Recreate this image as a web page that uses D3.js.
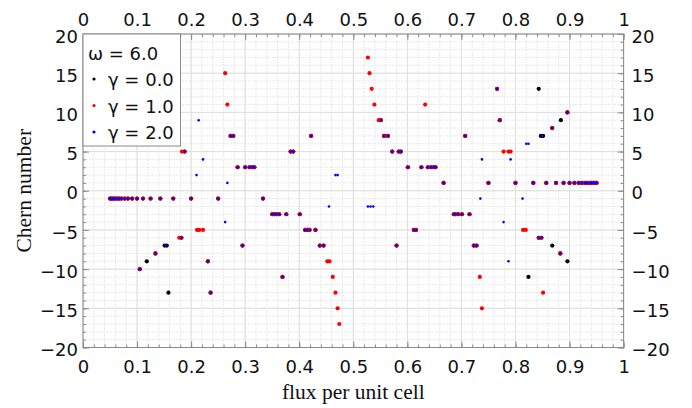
<!doctype html>
<html>
<head>
<meta charset="utf-8" />
<title>Chern number vs flux</title>
<script src="https://cdn.jsdelivr.net/npm/d3@7"></script>
<style>
  html,body{margin:0;background:#fff}
  svg text{fill:#111}
  .tick-lbl{font-family:"DejaVu Sans",sans-serif;font-size:18px}
  .ax-title{font-family:"Liberation Serif",serif;font-size:21.5px}
  .leg{font-family:"DejaVu Sans",sans-serif;font-size:18px}
</style>
</head>
<body>
<svg id="chart" width="692" height="408"></svg>
<script>
// points where all three γ agree (blue drawn over red over black)
const fluxShared = [
  0.050,0.053,0.056,0.059,0.063,0.067,0.071,0.077,0.083,0.091,0.100,0.111,0.125,0.143,0.167,0.200,0.250,0.333,
  0.667,0.750,0.800,0.833,0.857,0.875,0.889,0.900,0.909,0.917,0.923,0.929,0.933,0.938,0.941,0.944,0.947,0.950,
  0.286,0.300,0.308,0.313,0.317,0.601,0.626,0.638,0.644,0.649,0.652,
  0.350,0.354,0.358,0.363,0.376,0.401,0.686,0.689,0.694,0.701,0.715,
  0.188,0.384,0.389,0.572,0.584,0.588,
  0.411,0.415,0.419,0.430,0.612,0.616,
  0.182,0.843,0.848,
  0.273,0.278,0.422,0.557,0.564,0.707,
  0.295,0.438,0.445,0.580,0.723,0.728,
  0.868,0.134,0.883,0.551,0.771,0.231,0.896,0.105,0.369,0.766,0.236
];
const chernShared = [
  -1,-1,-1,-1,-1,-1,-1,-1,-1,-1,-1,-1,-1,-1,-1,-1,-1,-1,
  1,1,1,1,1,1,1,1,1,1,1,1,1,1,1,1,1,1,
  3,3,3,3,3,3,3,3,3,3,3,
  -3,-3,-3,-3,-3,-3,-3,-3,-3,-3,-3,
  5,5,5,5,5,5,
  -5,-5,-5,-5,-5,-5,
  -6,-6,-6,
  7,7,7,7,7,7,
  -7,-7,-7,-7,-7,-7,
  8,-8,-8,9,9,-9,10,-10,-11,13,-13
];

// γ = 0.0 only
const fluxG0  = [0.151,0.155,0.118,0.158,0.824,0.843,0.847,0.851,0.868,0.884,0.896];
const chernG0 = [-7,-7,-9,-13,-11,13,7,7,-7,9,-9];

// γ = 1.0 only
const fluxG1  = [0.155,0.183,0.178,0.211,0.215,0.222,0.263,0.267,0.452,0.456,0.462,0.467,0.471,0.474,
                 0.527,0.530,0.534,0.539,0.547,0.633,0.734,0.738,0.778,0.787,0.791,0.814,0.819,0.851];
const chernG1 = [6,5,-6,-5,-5,-5,15,11,-9,-9,-11,-13,-15,-17,
                 17,15,13,11,9,11,-11,-15,5,5,5,-5,-5,-13];

// γ = 2.0 only
const fluxG2  = [0.153,0.214,0.222,0.210,0.267,0.263,0.467,0.471,0.455,0.527,0.532,0.537,
                 0.735,0.738,0.778,0.787,0.791,0.813,0.820,0.824,0.849];
const chernG2 = [-7,9,4,2,1,-4,2,2,-2,-2,-2,-2,
                 -1,4,-4,-9,4,-1,6,6,7];

const xTicks = [0,0.1,0.2,0.3,0.4,0.5,0.6,0.7,0.8,0.9,1];
const xTickLabels = ["0","0.1","0.2","0.3","0.4","0.5","0.6","0.7","0.8","0.9","1"];
const yTicks = [-20,-15,-10,-5,0,5,10,15,20];

const series = [
  {name:"γ = 0.0", color:"#000", r:2.1, flux:fluxG0, chern:chernG0},
  {name:"γ = 1.0", color:"#f00", r:2.1, flux:fluxG1, chern:chernG1},
  {name:"γ = 2.0", color:"#00f", r:1.3, flux:fluxG2, chern:chernG2}
];

const m = {left:83, top:34};
const iw = 540.6, ih = 313.5;

const svg = d3.select("#chart");
const g = svg.append("g").attr("transform",`translate(${m.left},${m.top})`);

const x = d3.scaleLinear().domain([0,1]).range([0,iw]);
const y = d3.scaleLinear().domain([-20,20]).range([ih,0]);

// grid: minor every 0.02 / 1, major every 0.1 / 5
const xMinor = d3.range(0,1.0001,0.02);
const yMinor = d3.range(-20,20.001,1);
g.append("g").selectAll("line").data(xMinor).join("line")
  .attr("x1",d=>x(d)).attr("x2",d=>x(d)).attr("y1",0).attr("y2",ih)
  .attr("stroke","#e9e9e9").attr("stroke-dasharray","2,1");
g.append("g").selectAll("line").data(yMinor).join("line")
  .attr("y1",d=>y(d)).attr("y2",d=>y(d)).attr("x1",0).attr("x2",iw)
  .attr("stroke","#e9e9e9").attr("stroke-dasharray","2,1");
g.append("g").selectAll("line").data(xTicks).join("line")
  .attr("x1",d=>x(d)).attr("x2",d=>x(d)).attr("y1",0).attr("y2",ih)
  .attr("stroke","#dedede");
g.append("g").selectAll("line").data(yTicks).join("line")
  .attr("y1",d=>y(d)).attr("y2",d=>y(d)).attr("x1",0).attr("x2",iw)
  .attr("stroke","#dedede");

// axes with inward ticks on all four sides
function styleAxis(sel){
  sel.select(".domain").remove();
  sel.selectAll(".tick line").attr("stroke","#8a8a8a");
  sel.selectAll(".tick text").attr("class","tick-lbl").attr("fill","#111");
}
const fmtX = d => xTickLabels[xTicks.indexOf(d)] ?? d;
const minorAxis = (axis, vals) => axis.tickValues(vals).tickSize(-3).tickFormat("");

g.append("g").attr("transform",`translate(0,${ih})`)
  .call(minorAxis(d3.axisBottom(x), xMinor)).call(styleAxis);
g.append("g").call(minorAxis(d3.axisTop(x), xMinor)).call(styleAxis);
g.append("g").call(minorAxis(d3.axisLeft(y), yMinor)).call(styleAxis);
g.append("g").attr("transform",`translate(${iw},0)`)
  .call(minorAxis(d3.axisRight(y), yMinor)).call(styleAxis);

g.append("g").attr("transform",`translate(0,${ih})`)
  .call(d3.axisBottom(x).tickValues(xTicks).tickFormat(fmtX).tickSize(-6).tickPadding(13))
  .call(styleAxis);
g.append("g")
  .call(d3.axisTop(x).tickValues(xTicks).tickFormat(fmtX).tickSize(-6).tickPadding(8))
  .call(styleAxis);
g.append("g")
  .call(d3.axisLeft(y).tickValues(yTicks).tickFormat(d3.format("d")).tickSize(-6).tickPadding(5))
  .call(styleAxis)
  .selectAll(".tick text").attr("dy","0.45em");
g.append("g").attr("transform",`translate(${iw},0)`)
  .call(d3.axisRight(y).tickValues(yTicks).tickFormat(d3.format("d")).tickSize(-6).tickPadding(8))
  .call(styleAxis)
  .selectAll(".tick text").attr("dy","0.45em");

// frame
g.append("rect").attr("width",iw).attr("height",ih)
  .attr("fill","none").attr("stroke","#8a8a8a");

// markers: shared points get all three colours stacked, then each series' own points
const pts = g.append("g");
series.forEach(s => {
  const data = fluxShared.map((f,i)=>[f,chernShared[i]])
    .concat(s.flux.map((f,i)=>[f,s.chern[i]]));
  pts.append("g").selectAll("circle").data(data).join("circle")
    .attr("cx",d=>x(d[0])).attr("cy",d=>y(d[1]))
    .attr("r",s.r).attr("fill",s.color);
});

// legend
const leg = g.append("g");
leg.append("rect").attr("x",0).attr("y",0).attr("width",97.5).attr("height",112)
  .attr("fill","#fff").attr("stroke","#8a8a8a");
leg.append("text").attr("class","leg").attr("x",5).attr("y",26).text("ω = 6.0");
series.forEach((s,i)=>{
  const yy = 45 + i*26.5;
  leg.append("circle").attr("cx",11).attr("cy",yy).attr("r",1.6).attr("fill",s.color);
  leg.append("text").attr("class","leg").attr("x",25).attr("y",yy+7).text(s.name);
});

// axis titles
svg.append("text").attr("class","ax-title")
  .attr("text-anchor","middle")
  .attr("transform",`translate(31,${m.top+ih/2}) rotate(-90)`)
  .text("Chern number");
svg.append("text").attr("class","ax-title")
  .attr("text-anchor","middle")
  .attr("x",m.left+iw/2).attr("y",399)
  .text("flux per unit cell");
</script>
</body>
</html>
